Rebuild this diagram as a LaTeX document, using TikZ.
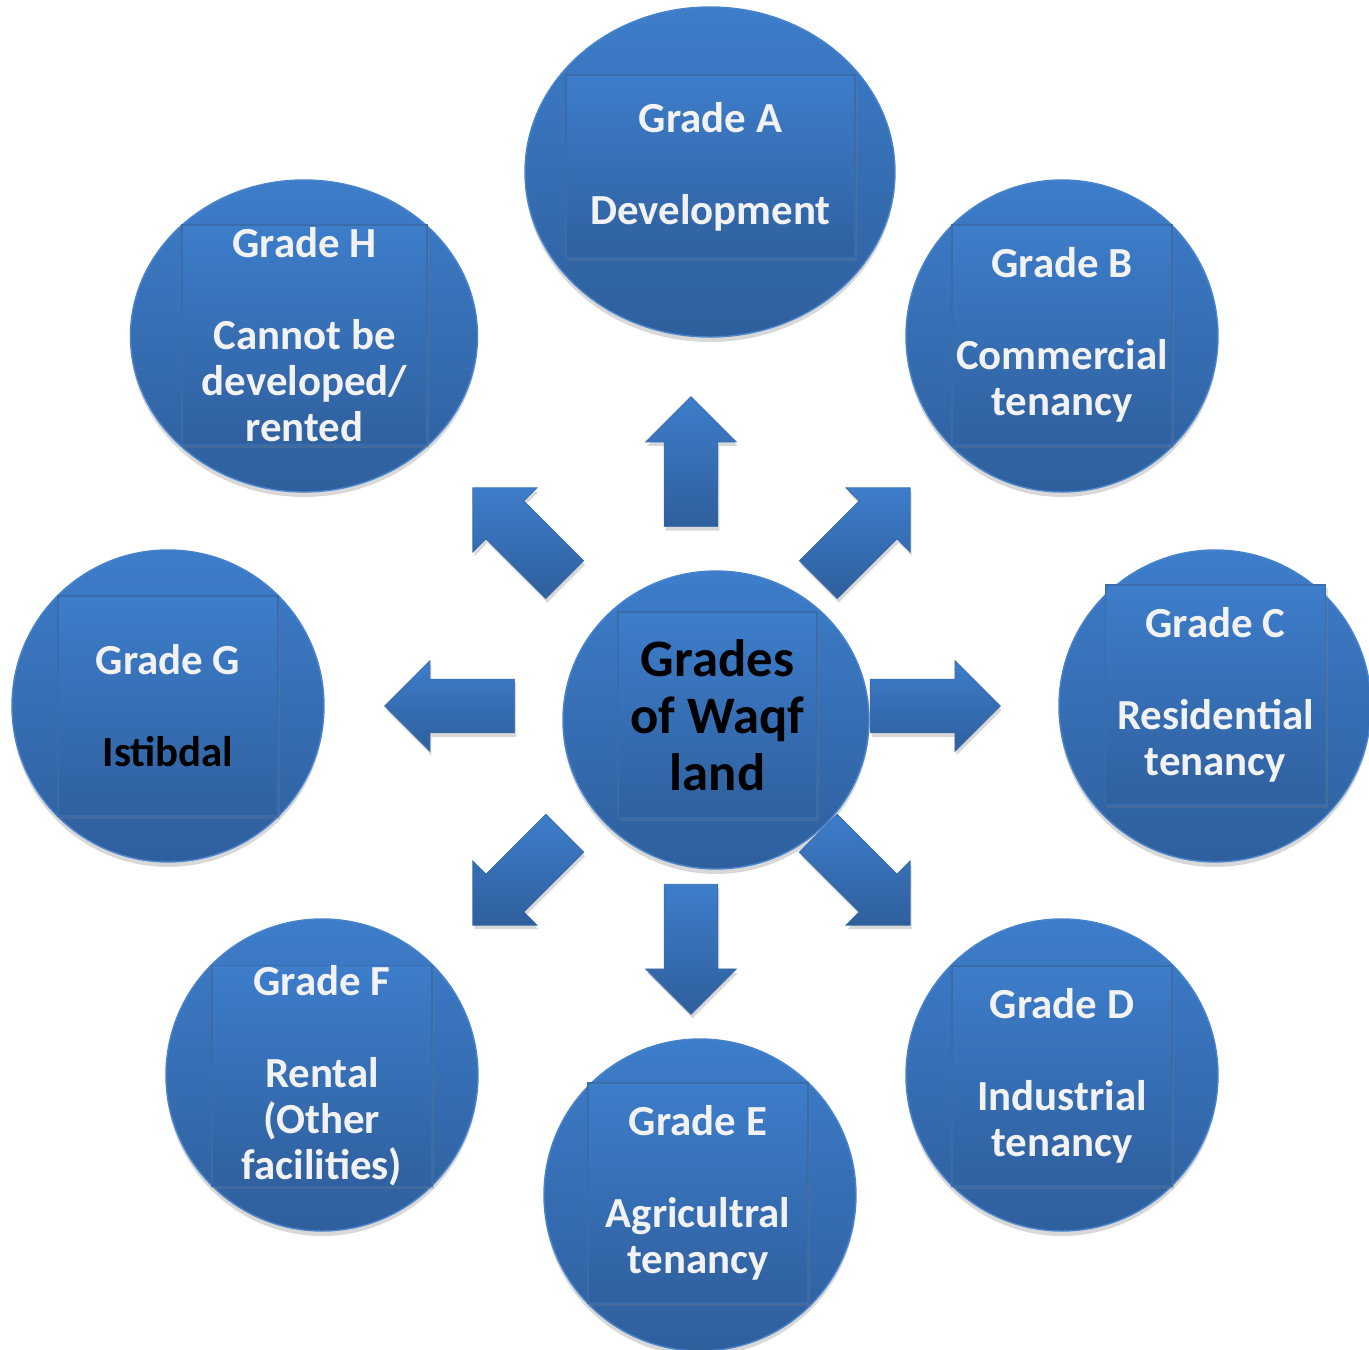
\documentclass[tikz,border=0pt]{standalone}
\usepackage{fontspec}
\setmainfont{Carlito}
\usepackage{tikz}
\usetikzlibrary{positioning,shapes.geometric,shapes.arrows,shadows}
\definecolor{blueTop}{HTML}{3D7DCA}
\definecolor{blueBot}{HTML}{2F5F9D}
\definecolor{blueEdge}{HTML}{4A84CB}
\definecolor{boxEdge}{HTML}{3A6CAA}
\definecolor{txtWhite}{HTML}{F2F2F2}

\begin{document}
\begin{tikzpicture}[
    grade/.style={ellipse, draw=blueEdge, line width=0.8pt,
                  top color=blueTop, bottom color=blueBot,
                  drop shadow={opacity=0.3, shadow xshift=0pt, shadow yshift=-0.1cm},
                  minimum width=6.24cm, minimum height=6.24cm, inner sep=0pt},
    gbox/.style={rectangle, draw=boxEdge, line width=0.6pt,
                 top color=blueTop, bottom color=blueBot!95!blueTop,
                 drop shadow={opacity=0.25, shadow xshift=0.04cm, shadow yshift=-0.06cm},
                 text=txtWhite, align=center, inner sep=0pt,
                 font=\bfseries\fontsize{24.4}{26.2}\selectfont,
                 minimum width=4.4cm, minimum height=4.4cm},
    barrow/.style={single arrow, single arrow tip angle=90,
                   single arrow head extend=0.37cm,
                   minimum height=2.6cm, inner xsep=0pt, inner ysep=0.53cm,
                   top color=blueTop, bottom color=blueBot,
                   draw=boxEdge, line width=0.4pt, anchor=tail,
                   drop shadow={opacity=0.3, shadow xshift=0.03cm, shadow yshift=-0.08cm}},
]
\useasboundingbox[fill=white] (-14.32,-12.6) rectangle (13.06,14.4);

% outer circles
\node[grade, minimum width=7.4cm, minimum height=6.6cm] (circA) at (-0.12,10.96) {};
\node[grade] (circB) at (6.92,7.68) {};
\node[grade] (circC) at (9.98,0.28) {};
\node[grade] (circD) at (6.92,-7.1) {};
\node[grade] (circE) at (-0.32,-9.5) {};
\node[grade] (circF) at (-7.88,-7.1) {};
\node[grade] (circG) at (-10.96,0.28) {};
\node[grade, minimum width=6.94cm] (circH) at (-8.24,7.68) {};

% text boxes
\node[gbox, minimum width=5.78cm, minimum height=3.66cm] (boxA) at (-0.11,11.07)
    {Grade A\\[26.2pt]Development};
\node[gbox] (boxB) at (6.92,7.7) {Grade B\\[26.2pt]Commercial\\tenancy};
\node[gbox] (boxC) at (9.99,0.5) {Grade C\\[26.2pt]Residential\\tenancy};
\node[gbox] (boxD) at (6.92,-7.12) {Grade D\\[26.2pt]Industrial\\tenancy};
\node[gbox] (boxE) at (-0.36,-9.46) {Grade E\\[26.2pt]Agricultral\\tenancy};
\node[gbox] (boxF) at (-7.88,-7.12) {Grade F\\[26.2pt]Rental\\(Other\\facilities)};
\node[gbox] (boxG) at (-10.96,0.28) {Grade G\\[26.2pt]\textcolor{black}{Istibdal}};
\node[gbox, minimum width=4.9cm] (boxH) at (-8.23,7.7)
    {Grade H\\[26.2pt]Cannot be\\developed/\\rented};

% hub
\node[grade, minimum width=6.12cm, minimum height=5.96cm] (hub) at (0,0) {};
\node[gbox, text=black, font=\bfseries\fontsize{30}{32.3}\selectfont,
      minimum width=3.98cm, minimum height=4.12cm] (hubtxt) at (0.03,0.1)
    {Grades\\of Waqf\\land};

% block arrows
\node[barrow, rotate=90] (arrN) at (-0.5,3.86) {};
\node[barrow, rotate=-90] (arrS) at (-0.5,-3.28) {};
\node[barrow, rotate=0] (arrE) at (3.08,0.28) {};
\node[barrow, rotate=180] (arrW) at (-4.02,0.28) {};
\node[barrow, rotate=45] (arrNE) at (2.04,2.8) {};
\node[barrow, rotate=135] (arrNW) at (-3.02,2.8) {};
\node[barrow, rotate=-45] (arrSE) at (2.04,-2.26) {};
\node[barrow, rotate=-135] (arrSW) at (-3.02,-2.26) {};
\end{tikzpicture}
\end{document}
